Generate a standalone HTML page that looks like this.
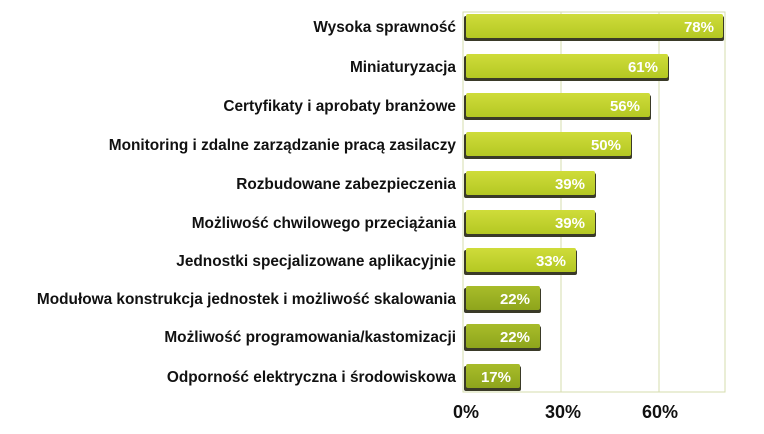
<!DOCTYPE html>
<html><head><meta charset="utf-8"><style>
body{margin:0;background:#fff;width:764px;height:429px;overflow:hidden;font-family:"Liberation Sans",Arial,sans-serif}
</style></head><body>
<svg width="764" height="429" xmlns="http://www.w3.org/2000/svg" font-family="Liberation Sans, Arial, sans-serif">
<defs>
<linearGradient id="g" x1="0" y1="0" x2="0" y2="1">
<stop offset="0" stop-color="#cfdc3a"/><stop offset="1" stop-color="#b4c823"/>
</linearGradient>
<linearGradient id="g2" x1="0" y1="0" x2="0" y2="1">
<stop offset="0" stop-color="#a8bc2a"/><stop offset="1" stop-color="#8ea51c"/>
</linearGradient>
</defs>
<rect x="463" y="12" width="262" height="380" fill="none" stroke="#d6dcae" stroke-width="1"/>
<line x1="561" y1="12" x2="561" y2="392" stroke="#d6dcae"/>
<line x1="659" y1="12" x2="659" y2="392" stroke="#d6dcae"/>
<g font-weight="bold" font-size="15.4" text-anchor="end" fill="#111">
<text x="456" y="32">Wysoka sprawność</text>
<text x="456" y="72">Miniaturyzacja</text>
<text x="456" y="111">Certyfikaty i aprobaty branżowe</text>
<text x="456" y="150">Monitoring i zdalne zarządzanie pracą zasilaczy</text>
<text x="456" y="189">Rozbudowane zabezpieczenia</text>
<text x="456" y="228">Możliwość chwilowego przeciążania</text>
<text x="456" y="266">Jednostki specjalizowane aplikacyjnie</text>
<text x="456" y="304">Modułowa konstrukcja jednostek i możliwość skalowania</text>
<text x="456" y="342">Możliwość programowania/kastomizacji</text>
<text x="456" y="382">Odporność elektryczna i środowiskowa</text>
</g>
<g>
<rect x="464" y="16" width="260" height="25" rx="2" fill="#3a3a28"/><rect x="466" y="14" width="257" height="24" rx="2" fill="url(#g)"/>
<rect x="464" y="56" width="205" height="25" rx="2" fill="#3a3a28"/><rect x="466" y="54" width="202" height="24" rx="2" fill="url(#g)"/>
<rect x="464" y="95" width="187" height="25" rx="2" fill="#3a3a28"/><rect x="466" y="93" width="184" height="24" rx="2" fill="url(#g)"/>
<rect x="464" y="134" width="168" height="25" rx="2" fill="#3a3a28"/><rect x="466" y="132" width="165" height="24" rx="2" fill="url(#g)"/>
<rect x="464" y="173" width="132" height="25" rx="2" fill="#3a3a28"/><rect x="466" y="171" width="129" height="24" rx="2" fill="url(#g)"/>
<rect x="464" y="212" width="132" height="25" rx="2" fill="#3a3a28"/><rect x="466" y="210" width="129" height="24" rx="2" fill="url(#g)"/>
<rect x="464" y="250" width="113" height="25" rx="2" fill="#3a3a28"/><rect x="466" y="248" width="110" height="24" rx="2" fill="url(#g)"/>
<rect x="464" y="288" width="77" height="25" rx="2" fill="#3a3a28"/><rect x="466" y="286" width="74" height="24" rx="2" fill="url(#g2)"/>
<rect x="464" y="326" width="77" height="25" rx="2" fill="#3a3a28"/><rect x="466" y="324" width="74" height="24" rx="2" fill="url(#g2)"/>
<rect x="464" y="366" width="57" height="25" rx="2" fill="#3a3a28"/><rect x="466" y="364" width="54" height="24" rx="2" fill="url(#g2)"/>
</g>
<g font-weight="bold" font-size="15" fill="#fff" text-anchor="end">
<text x="714" y="32">78%</text>
<text x="658" y="72">61%</text>
<text x="640" y="111">56%</text>
<text x="621" y="150">50%</text>
<text x="585" y="189">39%</text>
<text x="585" y="228">39%</text>
<text x="566" y="266">33%</text>
<text x="530" y="304">22%</text>
<text x="530" y="342">22%</text>
<text x="511" y="382">17%</text>
</g>
<g font-weight="bold" font-size="18" fill="#111" text-anchor="middle">
<text x="466" y="418">0%</text>
<text x="563" y="418">30%</text>
<text x="660" y="418">60%</text>
</g>
</svg>
</body></html>
